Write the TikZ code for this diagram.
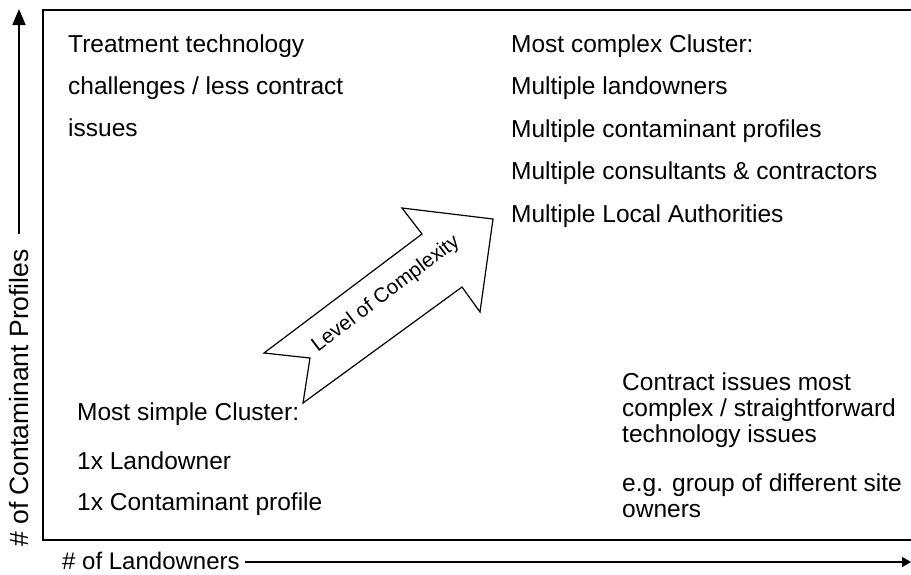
\documentclass[tikz,border=0pt]{standalone}
\usepackage{fontspec}
\setmainfont{Liberation Sans}
\usetikzlibrary{arrows.meta}
\begin{document}
\begin{tikzpicture}[x=1pt,y=-1pt,
  txt/.style={anchor=base west,inner sep=0pt,font=\fontsize{24.5}{24.5}\selectfont},
  axis/.style={line width=1.6pt},
  frame/.style={line width=1.6pt},
  bigarrow/.style={line width=1.2pt,fill=white,line join=miter}]
\useasboundingbox (0,0) rectangle (911,574);
% frame
\draw[frame] (915,10) -- (43,10) -- (43,540) -- (915,540);
% vertical axis
\node[anchor=center,rotate=90,inner sep=0pt,font=\fontsize{26.5}{26.5}\selectfont] (ylab) at (19,398) {\# of Contaminant Profiles};
\coordinate (ytop) at (19,9);
\coordinate (ybot) at (19,234);
\draw[axis,-{Triangle[length=16pt,width=13pt]}] (ybot) -- (ytop);
% horizontal axis
\node[anchor=base west,inner sep=0pt,font=\fontsize{24}{24}\selectfont] (xlab) at (62,569) {\# of Landowners};
\coordinate (xleft) at (245,562);
\coordinate (xright) at (911,562);
\draw[axis,-{Triangle[length=9pt,width=10pt]}] (xleft) -- (xright);
% big arrow
\draw[bigarrow] (264,353) -- (310,358) -- (303,403) -- (462,287) -- (480,312) -- (493,219) -- (402,208) -- (422,234) -- cycle;
\node[rotate=37,inner sep=0pt,font=\fontsize{20.5}{20.5}\selectfont] (lvl) at (386,294) {Level of Complexity};
% top left
\node[txt] (tl1) at (68,52) {Treatment technology};
\node[txt] (tl2) at (68,94) {challenges / less contract};
\node[txt] (tl3) at (68,136) {issues};
% top right
\node[txt] (tr1) at (511,52) {Most complex Cluster:};
\node[txt] (tr2) at (511,94) {Multiple landowners};
\node[txt] (tr3) at (511,137) {Multiple contaminant profiles};
\node[txt] (tr4) at (511,179) {Multiple consultants \& contractors};
\node[txt] (tr5) at (511,222) {Multiple Local Authorities};
% bottom left
\node[txt] (bl1) at (77,420) {Most simple Cluster:};
\node[txt] (bl2) at (77,469) {1x Landowner};
\node[txt] (bl3) at (77,510) {1x Contaminant profile};
% bottom right
\node[txt] (br1) at (622,390) {Contract issues most};
\node[txt] (br2) at (622,416) {complex / straightforward};
\node[txt] (br3) at (622,442) {technology issues};
\node[txt] (br4) at (622,491) {e.g. group of different site};
\node[txt] (br5) at (622,517) {owners};
\end{tikzpicture}
\end{document}
